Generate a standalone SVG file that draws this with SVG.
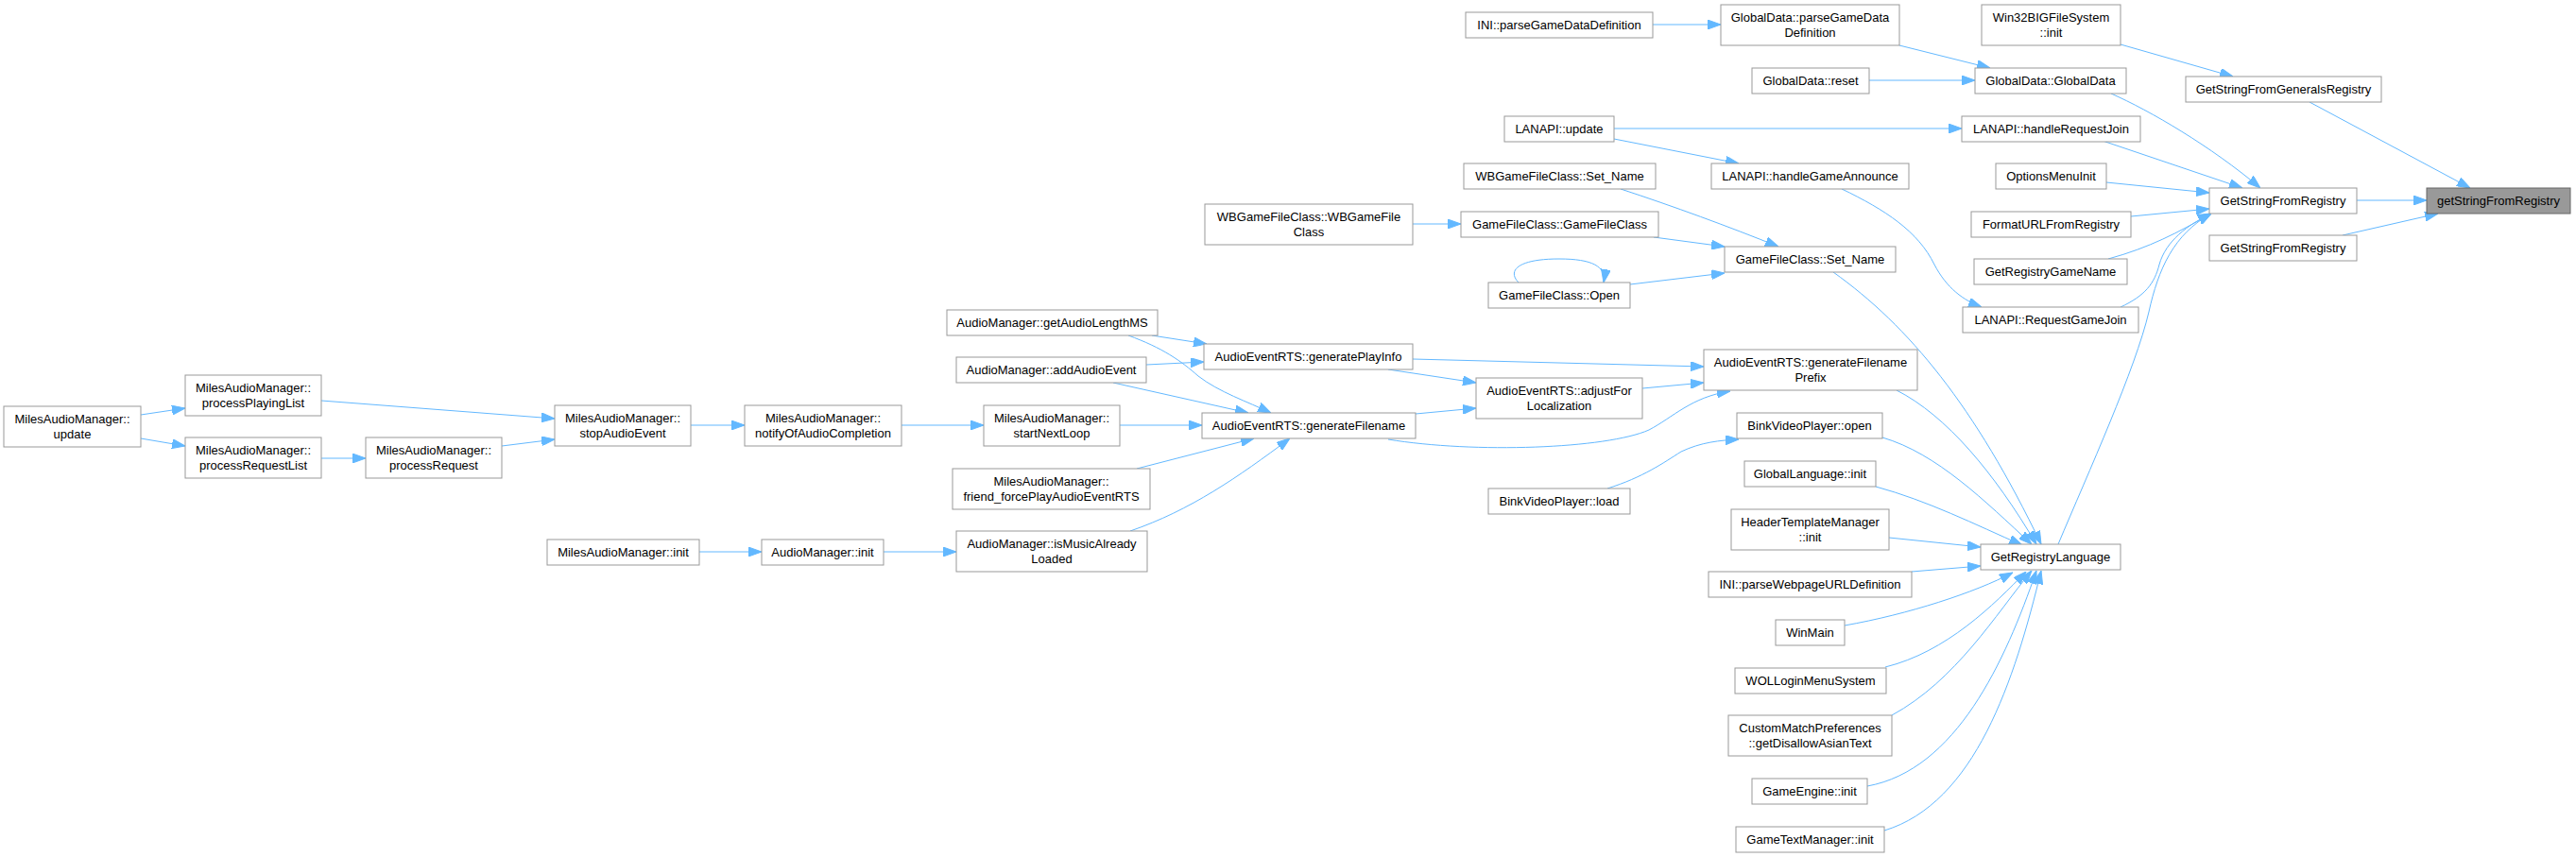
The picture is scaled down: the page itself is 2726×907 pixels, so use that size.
<svg xmlns="http://www.w3.org/2000/svg" width="2726" height="907" viewBox="0 0 2726 907">
<style>
.node rect{fill:#ffffff;stroke:#999999;stroke-width:1}
.node.target rect{fill:#999999;stroke:#666666}
text{font-family:"Liberation Sans",Arial,Helvetica,sans-serif;font-size:13px;text-anchor:middle;fill:#000000}
.edges path{fill:none;stroke:#63b8ff;stroke-width:1;marker-end:url(#ah)}
</style>
<defs>
<marker id="ah" markerUnits="userSpaceOnUse" markerWidth="14" markerHeight="10" refX="14" refY="5" orient="auto">
<path d="M0,0 L14,5 L0,10 z" fill="#63b8ff" stroke="#63b8ff" stroke-width="1"/>
</marker>
</defs>
<rect width="2726" height="907" fill="#ffffff"/>
<g class="edges" id="edges">
<path d="M2494,212 L2568,212"/>
<path d="M2444,108 L2614,199"/>
<path d="M2479,249 L2580,226"/>
<path d="M2244,47 L2363,81"/>
<path d="M2234,99 C2275,117 2340,155 2392,199"/>
<path d="M2225,149 L2373,199"/>
<path d="M2229,193 L2338,204"/>
<path d="M2255,229 L2338,221"/>
<path d="M2231,274 C2275,262 2305,246 2340,226"/>
<path d="M2244,325 C2270,313 2280,300 2285,280 C2292,255 2315,238 2340,226"/>
<path d="M2178,576 C2210,500 2260,390 2274,330 C2284,285 2300,248 2340,226"/>
<path d="M2010,48 L2106,72"/>
<path d="M1978,85 L2090,85"/>
<path d="M1749,26 L1821,26"/>
<path d="M1708,136 L2076,136"/>
<path d="M1708,147 L1840,173"/>
<path d="M1949,200 C1995,222 2030,245 2047,280 C2060,305 2078,318 2097,325"/>
<path d="M1715,200 C1770,218 1830,240 1882,261"/>
<path d="M1750,251 L1825,261"/>
<path d="M1725,301 L1825,289"/>
<path d="M1495,237 L1546,237"/>
<path d="M1607,299 C1595,287 1605,274 1650,274 C1685,274 1700,282 1697,299"/>
<path d="M1940,288 C2020,345 2090,430 2160,576"/>
<path d="M2007,413 C2060,440 2110,500 2155,576"/>
<path d="M1992,463 C2050,480 2100,530 2150,576"/>
<path d="M1985,515 C2040,530 2090,555 2140,577"/>
<path d="M1999,569 L2096,579"/>
<path d="M2023,605 L2096,599"/>
<path d="M1952,662 C2020,650 2090,627 2130,606"/>
<path d="M1995,706 C2060,690 2110,640 2144,605"/>
<path d="M2002,757 C2070,720 2112,650 2150,604"/>
<path d="M1976,832 C2070,815 2122,700 2155,604"/>
<path d="M1994,879 C2090,850 2132,720 2160,604"/>
<path d="M1701,517 C1739,505 1760,490 1779,478 C1800,468 1820,466 1840,465"/>
<path d="M1469,465 C1560,480 1700,475 1745,455 C1770,442 1790,420 1831,414"/>
<path d="M1498,438 L1562,432"/>
<path d="M1495,380 L1803,388"/>
<path d="M1469,391 L1562,405"/>
<path d="M1738,411 L1803,405"/>
<path d="M1219,355 L1277,364"/>
<path d="M1194,355 C1230,368 1250,382 1268,398 C1290,415 1320,425 1345,437"/>
<path d="M1213,386 L1274,383"/>
<path d="M1178,405 L1321,437"/>
<path d="M1185,450 L1272,450"/>
<path d="M1203,496 L1327,464"/>
<path d="M1196,562 C1260,540 1310,505 1365,464"/>
<path d="M954,450 L1041,450"/>
<path d="M731,450 L788,450"/>
<path d="M340,424 L587,443"/>
<path d="M531,472 L587,465"/>
<path d="M340,485 L387,485"/>
<path d="M149,439 L196,432"/>
<path d="M149,464 L196,472"/>
<path d="M740,584 L806,584"/>
<path d="M935,584 L1012,584"/>
</g>
<g id="n1" class="node target"><rect x="2568" y="199" width="152" height="27"/><text x="2644" y="217">getStringFromRegistry</text></g>
<g id="n2" class="node"><rect x="2338" y="199" width="156" height="27"/><text x="2416" y="217">GetStringFromRegistry</text></g>
<g id="n3" class="node"><rect x="2313" y="81" width="207" height="27"/><text x="2416.5" y="99">GetStringFromGeneralsRegistry</text></g>
<g id="n4" class="node"><rect x="2338" y="249" width="156" height="27"/><text x="2416" y="267">GetStringFromRegistry</text></g>
<g id="n5" class="node"><rect x="2097" y="5" width="147" height="43"/><text x="2170.5" y="23">Win32BIGFileSystem</text><text x="2170.5" y="39">::init</text></g>
<g id="n6" class="node"><rect x="2090" y="72" width="160" height="27"/><text x="2170" y="90">GlobalData::GlobalData</text></g>
<g id="n7" class="node"><rect x="2076" y="123" width="189" height="27"/><text x="2170.5" y="141">LANAPI::handleRequestJoin</text></g>
<g id="n8" class="node"><rect x="2112" y="173" width="117" height="27"/><text x="2170.5" y="191">OptionsMenuInit</text></g>
<g id="n9" class="node"><rect x="2086" y="224" width="169" height="27"/><text x="2170.5" y="242">FormatURLFromRegistry</text></g>
<g id="n10" class="node"><rect x="2089" y="274" width="162" height="27"/><text x="2170" y="292">GetRegistryGameName</text></g>
<g id="n11" class="node"><rect x="2077" y="325" width="186" height="27"/><text x="2170" y="343">LANAPI::RequestGameJoin</text></g>
<g id="n12" class="node"><rect x="2096" y="576" width="148" height="27"/><text x="2170" y="594">GetRegistryLanguage</text></g>
<g id="n13" class="node"><rect x="1821" y="5" width="189" height="43"/><text x="1915.5" y="23">GlobalData::parseGameData</text><text x="1915.5" y="39">Definition</text></g>
<g id="n14" class="node"><rect x="1854" y="72" width="124" height="27"/><text x="1916" y="90">GlobalData::reset</text></g>
<g id="n15" class="node"><rect x="1551" y="13" width="198" height="27"/><text x="1650" y="31">INI::parseGameDataDefinition</text></g>
<g id="n16" class="node"><rect x="1592" y="123" width="116" height="27"/><text x="1650" y="141">LANAPI::update</text></g>
<g id="n17" class="node"><rect x="1811" y="173" width="209" height="27"/><text x="1915.5" y="191">LANAPI::handleGameAnnounce</text></g>
<g id="n18" class="node"><rect x="1549" y="173" width="203" height="27"/><text x="1650.5" y="191">WBGameFileClass::Set_Name</text></g>
<g id="n19" class="node"><rect x="1546" y="224" width="209" height="27"/><text x="1650.5" y="242">GameFileClass::GameFileClass</text></g>
<g id="n20" class="node"><rect x="1825" y="261" width="181" height="27"/><text x="1915.5" y="279">GameFileClass::Set_Name</text></g>
<g id="n21" class="node"><rect x="1575" y="299" width="150" height="27"/><text x="1650" y="317">GameFileClass::Open</text></g>
<g id="n22" class="node"><rect x="1275" y="216" width="220" height="43"/><text x="1385" y="234">WBGameFileClass::WBGameFile</text><text x="1385" y="250">Class</text></g>
<g id="n23" class="node"><rect x="1803" y="370" width="226" height="43"/><text x="1916" y="388">AudioEventRTS::generateFilename</text><text x="1916" y="404">Prefix</text></g>
<g id="n24" class="node"><rect x="1562" y="400" width="176" height="43"/><text x="1650" y="418">AudioEventRTS::adjustFor</text><text x="1650" y="434">Localization</text></g>
<g id="n25" class="node"><rect x="1274" y="364" width="221" height="27"/><text x="1384.5" y="382">AudioEventRTS::generatePlayInfo</text></g>
<g id="n26" class="node"><rect x="1272" y="437" width="226" height="27"/><text x="1385" y="455">AudioEventRTS::generateFilename</text></g>
<g id="n27" class="node"><rect x="1838" y="437" width="154" height="27"/><text x="1915" y="455">BinkVideoPlayer::open</text></g>
<g id="n28" class="node"><rect x="1575" y="517" width="150" height="27"/><text x="1650" y="535">BinkVideoPlayer::load</text></g>
<g id="n29" class="node"><rect x="1846" y="488" width="139" height="27"/><text x="1915.5" y="506">GlobalLanguage::init</text></g>
<g id="n30" class="node"><rect x="1832" y="539" width="167" height="43"/><text x="1915.5" y="557">HeaderTemplateManager</text><text x="1915.5" y="573">::init</text></g>
<g id="n31" class="node"><rect x="1808" y="605" width="215" height="27"/><text x="1915.5" y="623">INI::parseWebpageURLDefinition</text></g>
<g id="n32" class="node"><rect x="1879" y="656" width="73" height="27"/><text x="1915.5" y="674">WinMain</text></g>
<g id="n33" class="node"><rect x="1836" y="707" width="160" height="27"/><text x="1916" y="725">WOLLoginMenuSystem</text></g>
<g id="n34" class="node"><rect x="1829" y="757" width="173" height="43"/><text x="1915.5" y="775">CustomMatchPreferences</text><text x="1915.5" y="791">::getDisallowAsianText</text></g>
<g id="n35" class="node"><rect x="1854" y="824" width="122" height="27"/><text x="1915" y="842">GameEngine::init</text></g>
<g id="n36" class="node"><rect x="1837" y="875" width="157" height="27"/><text x="1915.5" y="893">GameTextManager::init</text></g>
<g id="n37" class="node"><rect x="1002" y="328" width="223" height="27"/><text x="1113.5" y="346">AudioManager::getAudioLengthMS</text></g>
<g id="n38" class="node"><rect x="1012" y="378" width="201" height="27"/><text x="1112.5" y="396">AudioManager::addAudioEvent</text></g>
<g id="n39" class="node"><rect x="1041" y="429" width="144" height="43"/><text x="1113" y="447">MilesAudioManager::</text><text x="1113" y="463">startNextLoop</text></g>
<g id="n40" class="node"><rect x="1008" y="496" width="209" height="43"/><text x="1112.5" y="514">MilesAudioManager::</text><text x="1112.5" y="530">friend_forcePlayAudioEventRTS</text></g>
<g id="n41" class="node"><rect x="1012" y="562" width="202" height="43"/><text x="1113" y="580">AudioManager::isMusicAlready</text><text x="1113" y="596">Loaded</text></g>
<g id="n42" class="node"><rect x="788" y="429" width="166" height="43"/><text x="871" y="447">MilesAudioManager::</text><text x="871" y="463">notifyOfAudioCompletion</text></g>
<g id="n43" class="node"><rect x="806" y="571" width="129" height="27"/><text x="870.5" y="589">AudioManager::init</text></g>
<g id="n44" class="node"><rect x="579" y="571" width="161" height="27"/><text x="659.5" y="589">MilesAudioManager::init</text></g>
<g id="n45" class="node"><rect x="587" y="429" width="144" height="43"/><text x="659" y="447">MilesAudioManager::</text><text x="659" y="463">stopAudioEvent</text></g>
<g id="n46" class="node"><rect x="387" y="463" width="144" height="43"/><text x="459" y="481">MilesAudioManager::</text><text x="459" y="497">processRequest</text></g>
<g id="n47" class="node"><rect x="196" y="397" width="144" height="43"/><text x="268" y="415">MilesAudioManager::</text><text x="268" y="431">processPlayingList</text></g>
<g id="n48" class="node"><rect x="196" y="463" width="144" height="43"/><text x="268" y="481">MilesAudioManager::</text><text x="268" y="497">processRequestList</text></g>
<g id="n49" class="node"><rect x="4" y="430" width="145" height="43"/><text x="76.5" y="448">MilesAudioManager::</text><text x="76.5" y="464">update</text></g>
</svg>
